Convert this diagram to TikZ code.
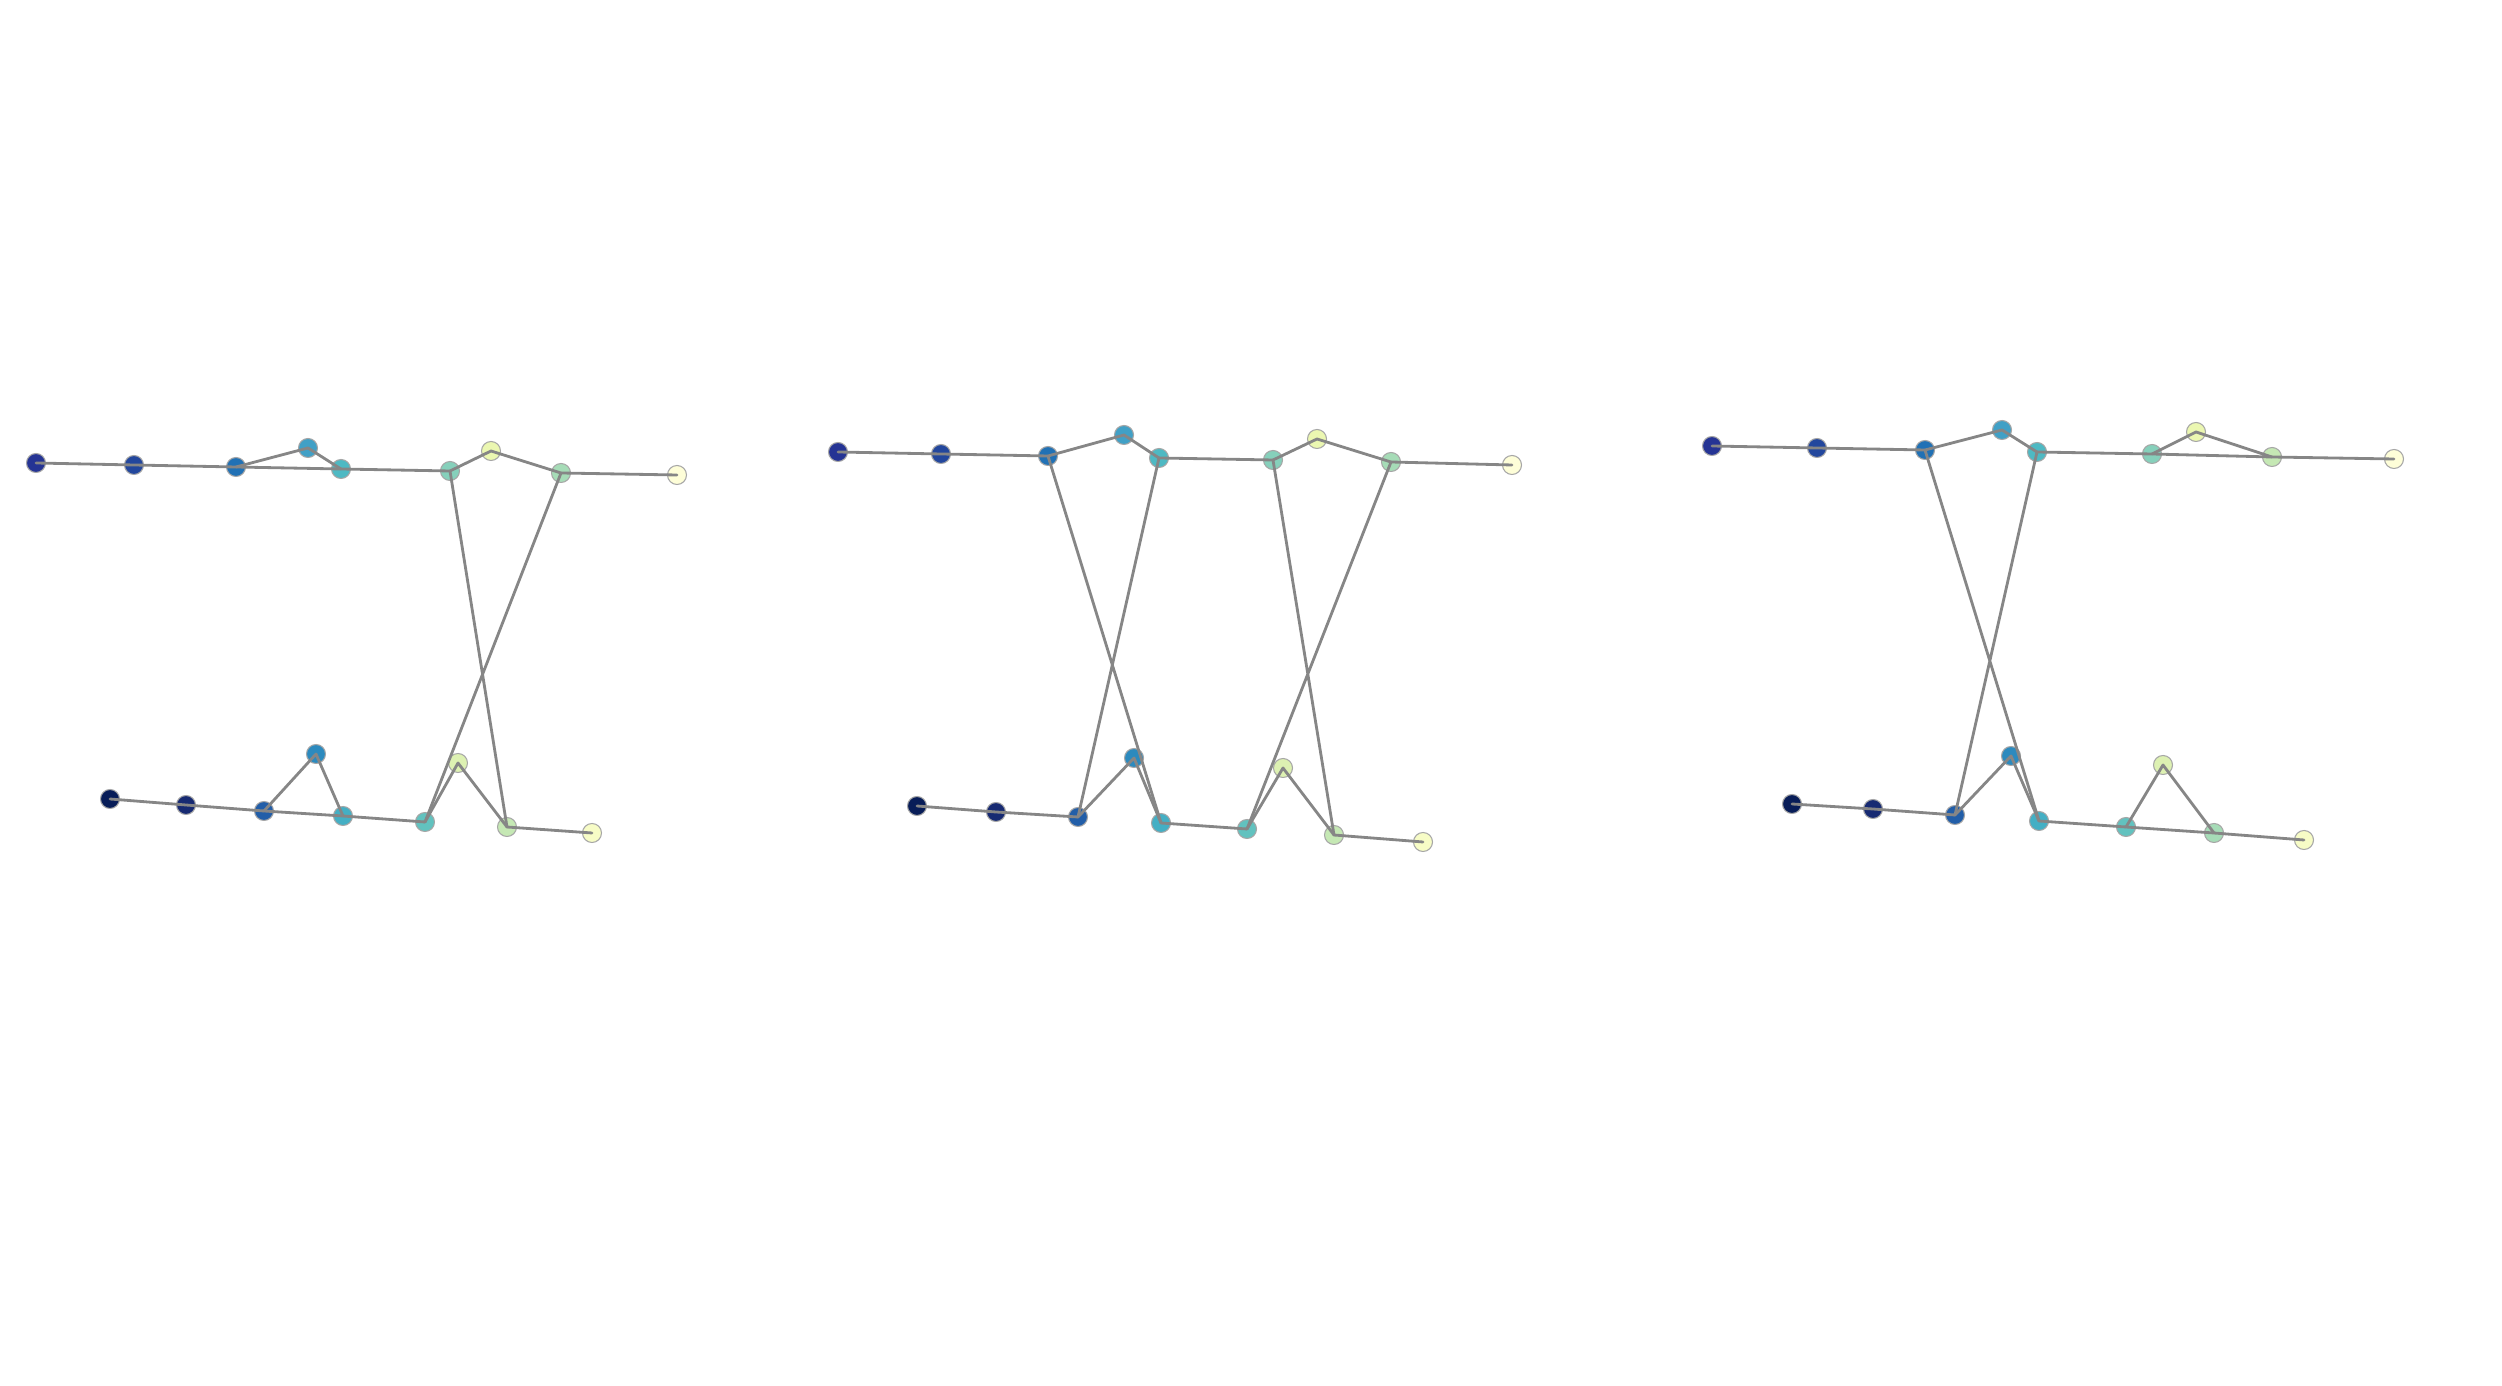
\documentclass[tikz,border=0pt]{standalone}
\definecolor{ylgA}{HTML}{081D58}
\definecolor{ylgB}{HTML}{172A72}
\definecolor{ylgC}{HTML}{253494}
\definecolor{ylgD}{HTML}{23479D}
\definecolor{ylgE}{HTML}{225EA8}
\definecolor{ylgF}{HTML}{2171B5}
\definecolor{ylgG}{HTML}{2C8ABE}
\definecolor{ylgH}{HTML}{41A0C6}
\definecolor{ylgI}{HTML}{44AFC4}
\definecolor{ylgJ}{HTML}{4EB9C3}
\definecolor{ylgK}{HTML}{62C2BF}
\definecolor{ylgL}{HTML}{86D0BB}
\definecolor{ylgM}{HTML}{A6DCB7}
\definecolor{ylgN}{HTML}{C5E8B4}
\definecolor{ylgO}{HTML}{DDF1B2}
\definecolor{ylgP}{HTML}{EBF7B1}
\definecolor{ylgQ}{HTML}{F7FCC6}
\definecolor{ylgR}{HTML}{FEFED8}
\definecolor{linkgray}{HTML}{868686}
\begin{document}
\begin{tikzpicture}[x=0.01cm, y=-0.01cm, line join=round, line cap=round,
	dot/.style={circle, inner sep=0pt, minimum size=0.19cm, draw=gray!70, line width=0.3pt},
	link/.style={draw=linkgray, line width=0.8pt}]
	\useasboundingbox (0,0) rectangle (2502,1386);
	% left graph
	\node[dot, fill=ylgC] (p1t1) at (36,463) {};
	\node[dot, fill=ylgD] (p1t2) at (134,465) {};
	\node[dot, fill=ylgF] (p1t3) at (236,467) {};
	\node[dot, fill=ylgH] (p1t4) at (308,448) {};
	\node[dot, fill=ylgJ] (p1t5) at (341,469) {};
	\node[dot, fill=ylgL] (p1t6) at (450,471) {};
	\node[dot, fill=ylgP] (p1t7) at (491,451) {};
	\node[dot, fill=ylgM] (p1t8) at (561,473) {};
	\node[dot, fill=ylgR] (p1t9) at (677,475) {};
	\node[dot, fill=ylgA] (p1b1) at (110,799) {};
	\node[dot, fill=ylgB] (p1b2) at (186,805) {};
	\node[dot, fill=ylgE] (p1b3) at (264,811) {};
	\node[dot, fill=ylgG] (p1b4) at (316,754) {};
	\node[dot, fill=ylgI] (p1b5) at (343,816) {};
	\node[dot, fill=ylgK] (p1b6) at (425,822) {};
	\node[dot, fill=ylgO] (p1b7) at (458,763) {};
	\node[dot, fill=ylgN] (p1b8) at (507,827) {};
	\node[dot, fill=ylgQ] (p1b9) at (592,833) {};
	\draw[link] (p1t1.center) -- (p1t2.center) -- (p1t3.center) -- (p1t5.center) -- (p1t6.center) -- (p1t7.center) -- (p1t8.center) -- (p1t9.center);
	\draw[link] (p1t3.center) -- (p1t4.center) -- (p1t5.center);
	\draw[link] (p1b1.center) -- (p1b2.center) -- (p1b3.center) -- (p1b5.center) -- (p1b6.center) -- (p1b7.center) -- (p1b8.center) -- (p1b9.center);
	\draw[link] (p1b3.center) -- (p1b4.center) -- (p1b5.center);
	\draw[link] (p1t6.center) -- (p1b8.center) (p1t8.center) -- (p1b6.center);
	% middle graph
	\node[dot, fill=ylgC] (p2t1) at (838,452) {};
	\node[dot, fill=ylgD] (p2t2) at (941,454) {};
	\node[dot, fill=ylgF] (p2t3) at (1048,456) {};
	\node[dot, fill=ylgH] (p2t4) at (1124,435) {};
	\node[dot, fill=ylgJ] (p2t5) at (1159,458) {};
	\node[dot, fill=ylgL] (p2t6) at (1273,460) {};
	\node[dot, fill=ylgP] (p2t7) at (1317,439) {};
	\node[dot, fill=ylgM] (p2t8) at (1391,462) {};
	\node[dot, fill=ylgR] (p2t9) at (1512,465) {};
	\node[dot, fill=ylgA] (p2b1) at (917,806) {};
	\node[dot, fill=ylgB] (p2b2) at (996,812) {};
	\node[dot, fill=ylgE] (p2b3) at (1078,817) {};
	\node[dot, fill=ylgG] (p2b4) at (1134,758) {};
	\node[dot, fill=ylgI] (p2b5) at (1161,823) {};
	\node[dot, fill=ylgK] (p2b6) at (1247,829) {};
	\node[dot, fill=ylgO] (p2b7) at (1283,768) {};
	\node[dot, fill=ylgN] (p2b8) at (1334,835) {};
	\node[dot, fill=ylgQ] (p2b9) at (1423,842) {};
	\draw[link] (p2t1.center) -- (p2t2.center) -- (p2t3.center) -- (p2t4.center) -- (p2t5.center) -- (p2t6.center) -- (p2t7.center) -- (p2t8.center) -- (p2t9.center);
	\draw[link] (p2b1.center) -- (p2b2.center) -- (p2b3.center) -- (p2b4.center) -- (p2b5.center) -- (p2b6.center) -- (p2b7.center) -- (p2b8.center) -- (p2b9.center);
	\draw[link] (p2t3.center) -- (p2b5.center) (p2t5.center) -- (p2b3.center);
	\draw[link] (p2t6.center) -- (p2b8.center) (p2t8.center) -- (p2b6.center);
	% right graph
	\node[dot, fill=ylgC] (p3t1) at (1712,446) {};
	\node[dot, fill=ylgD] (p3t2) at (1817,448) {};
	\node[dot, fill=ylgF] (p3t3) at (1925,450) {};
	\node[dot, fill=ylgH] (p3t4) at (2002,430) {};
	\node[dot, fill=ylgJ] (p3t5) at (2037,452) {};
	\node[dot, fill=ylgL] (p3t6) at (2152,454) {};
	\node[dot, fill=ylgP] (p3t7) at (2196,432) {};
	\node[dot, fill=ylgN] (p3t8) at (2272,457) {};
	\node[dot, fill=ylgR] (p3t9) at (2394,459) {};
	\node[dot, fill=ylgA] (p3b1) at (1792,804) {};
	\node[dot, fill=ylgB] (p3b2) at (1873,809) {};
	\node[dot, fill=ylgE] (p3b3) at (1955,815) {};
	\node[dot, fill=ylgG] (p3b4) at (2011,756) {};
	\node[dot, fill=ylgI] (p3b5) at (2039,821) {};
	\node[dot, fill=ylgK] (p3b6) at (2126,827) {};
	\node[dot, fill=ylgO] (p3b7) at (2163,765) {};
	\node[dot, fill=ylgM] (p3b8) at (2214,833) {};
	\node[dot, fill=ylgQ] (p3b9) at (2304,840) {};
	\draw[link] (p3t1.center) -- (p3t2.center) -- (p3t3.center) -- (p3t4.center) -- (p3t5.center) -- (p3t6.center) -- (p3t8.center) -- (p3t9.center);
	\draw[link] (p3t6.center) -- (p3t7.center) -- (p3t8.center);
	\draw[link] (p3b1.center) -- (p3b2.center) -- (p3b3.center) -- (p3b4.center) -- (p3b5.center) -- (p3b6.center) -- (p3b8.center) -- (p3b9.center);
	\draw[link] (p3b6.center) -- (p3b7.center) -- (p3b8.center);
	\draw[link] (p3t3.center) -- (p3b5.center) (p3t5.center) -- (p3b3.center);
\end{tikzpicture}
\end{document}
